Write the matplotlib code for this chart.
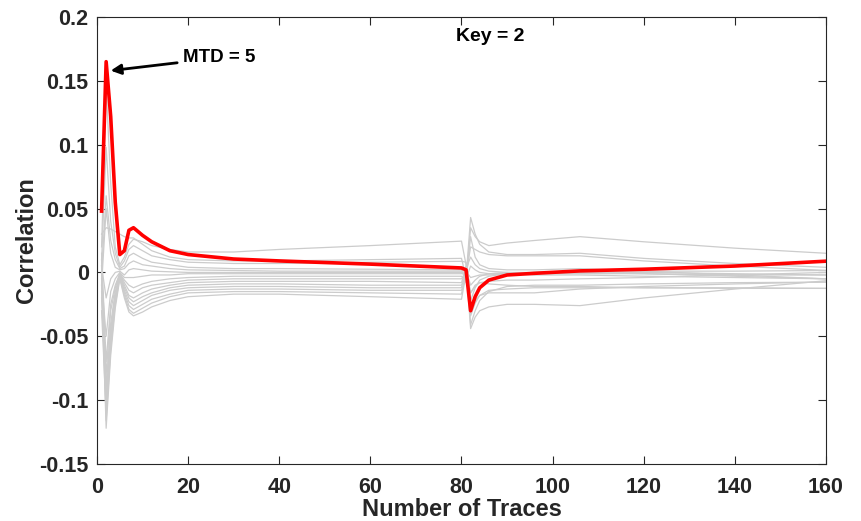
"""
Correlation vs number of traces for all 16 key guesses (key 2 highlighted).
"""
import matplotlib
matplotlib.use('Agg')
import matplotlib.pyplot as plt

plt.rcParams['font.family'] = ['Liberation Sans', 'DejaVu Sans']
plt.rcParams['font.weight'] = 'bold'

n_traces = [1, 2, 3, 4, 5, 6, 7, 8, 10, 12, 16, 20, 30, 40, 60, 80,
            81, 82, 83, 84, 86, 90, 96, 106, 120, 140, 160]

# correct key (key = 2)
key2 = [0.048, 0.165, 0.122, 0.055, 0.014, 0.017, 0.033, 0.035, 0.029, 0.024, 0.017, 0.014, 0.0105, 0.009, 0.0065, 0.0035,
        0.002, -0.030, -0.019, -0.012, -0.006, -0.002, -0.0007, 0.0012, 0.0025, 0.005, 0.0088]

# wrong key guesses
key0 = [0.020, 0.146, 0.070, 0.020, 0.006, 0.012, 0.022, 0.026, 0.024, 0.021, 0.018, 0.016, 0.016, 0.018, 0.021, 0.0245,
        0.006, -0.016, -0.010, -0.008, -0.009, -0.010, -0.011, -0.011, -0.012, -0.0125, -0.0125]
key1 = [0.030, 0.035, 0.034, 0.032, 0.030, 0.028, 0.027, 0.027, 0.022, 0.017, 0.012, 0.010, 0.009, 0.009, 0.010, 0.011,
        -0.004, 0.043, 0.030, 0.022, 0.016, 0.014, 0.014, 0.015, 0.011, 0.007, 0.004]
key3 = [0.010, 0.098, 0.040, 0.015, 0.004, 0.009, 0.018, 0.021, 0.017, 0.013, 0.010, 0.008, 0.007, 0.007, 0.008, 0.0087,
        0.008, -0.041, -0.030, -0.022, -0.015, -0.011, -0.010, -0.010, -0.009, -0.008, -0.0076]
key4 = [0.000, 0.060, 0.025, 0.010, 0.003, 0.005, 0.013, 0.015, 0.011, 0.008, 0.006, 0.004, 0.003, 0.003, 0.0025, 0.002,
        -0.008, 0.035, 0.028, 0.024, 0.021, 0.023, 0.025, 0.028, 0.024, 0.019, 0.015]
key5 = [-0.010, 0.050, 0.015, 0.004, 0.002, 0.003, 0.007, 0.009, 0.006, 0.005, 0.003, 0.002, 0.0015, 0.001, 0.001, 0.001,
        0.004, -0.022, -0.012, -0.006, -0.003, -0.001, 0.000, 0.0003, 0.000, -0.001, -0.002]
key6 = [0.005, -0.020, -0.005, 0.000, 0.001, -0.002, 0.002, 0.003, 0.002, 0.001, 0.0005, 0.000, 0.000, 0.000, 0.000, 0.000,
        -0.002, 0.020, 0.018, 0.016, 0.014, 0.013, 0.013, 0.013, 0.009, 0.005, 0.0016]
key7 = [-0.005, -0.050, -0.015, -0.005, 0.000, -0.004, -0.004, -0.004, -0.003, -0.002, -0.002, -0.001, -0.001, -0.001, -0.001, -0.001,
        0.002, -0.010, -0.006, -0.003, -0.001, 0.000, -0.001, -0.001, -0.001, -0.002, -0.002]
key8 = [0.015, -0.070, -0.025, -0.010, -0.001, -0.006, -0.010, -0.012, -0.009, -0.007, -0.005, -0.004, -0.003, -0.003, -0.003, -0.003,
        -0.006, 0.028, 0.012, 0.006, 0.003, 0.002, 0.002, 0.003, 0.001, -0.002, -0.005]
key9 = [-0.015, -0.080, -0.030, -0.012, -0.001, -0.008, -0.014, -0.016, -0.012, -0.010, -0.008, -0.006, -0.005, -0.005, -0.005, -0.005,
        0.000, -0.034, -0.024, -0.018, -0.014, -0.013, -0.012, -0.012, -0.012, -0.012, -0.0125]
key10 = [0.000, -0.090, -0.040, -0.015, -0.002, -0.010, -0.018, -0.020, -0.016, -0.013, -0.010, -0.008, -0.007, -0.007, -0.007, -0.008,
         0.003, 0.012, 0.006, 0.003, 0.001, 0.000, 0.000, 0.000, -0.001, -0.003, -0.005]
key11 = [-0.020, -0.100, -0.045, -0.018, -0.002, -0.012, -0.020, -0.023, -0.019, -0.016, -0.012, -0.010, -0.009, -0.009, -0.010, -0.010,
         -0.003, -0.028, -0.022, -0.018, -0.016, -0.016, -0.016, -0.013, -0.011, -0.009, -0.0075]
key12 = [0.010, -0.105, -0.050, -0.020, -0.003, -0.014, -0.023, -0.026, -0.022, -0.018, -0.014, -0.012, -0.011, -0.011, -0.012, -0.012,
         0.005, -0.044, -0.035, -0.030, -0.027, -0.025, -0.025, -0.026, -0.020, -0.013, -0.0065]
key13 = [-0.030, -0.110, -0.055, -0.022, -0.003, -0.016, -0.026, -0.029, -0.025, -0.021, -0.017, -0.014, -0.013, -0.013, -0.014, -0.014,
         -0.005, 0.005, 0.002, 0.000, -0.001, -0.001, -0.002, -0.002, -0.003, -0.004, -0.005]
key14 = [0.005, -0.116, -0.060, -0.025, -0.004, -0.018, -0.029, -0.032, -0.028, -0.024, -0.019, -0.016, -0.015, -0.015, -0.016, -0.017,
         0.001, -0.004, -0.003, -0.002, -0.002, -0.001, 0.000, 0.001, 0.001, 0.001, 0.0015]
key15 = [-0.010, -0.122, -0.065, -0.028, -0.005, -0.020, -0.031, -0.034, -0.031, -0.027, -0.022, -0.019, -0.017, -0.017, -0.019, -0.021,
         -0.001, -0.016, -0.011, -0.008, -0.007, -0.006, -0.006, -0.005, -0.004, -0.002, 0.000]

wrong_keys = [key0, key1, key3, key4, key5, key6, key7, key8, key9,
              key10, key11, key12, key13, key14, key15]

axis_col = '#262626'

fig = plt.figure(figsize=(8.61, 5.21), dpi=100)
ax = fig.add_axes([0.1127, 0.1094, 0.8466, 0.858])

for k in wrong_keys:
    ax.plot(n_traces, k, color='#cccccc', linewidth=0.9)
ax.plot(n_traces, key2, color='red', linewidth=2.6)

ax.set_xlim(0, 160)
ax.set_ylim(-0.15, 0.2)
ax.set_xticks(range(0, 161, 20))
ax.set_yticks([-0.15, -0.1, -0.05, 0, 0.05, 0.1, 0.15, 0.2])
ax.set_yticklabels(['-0.15', '-0.1', '-0.05', '0', '0.05', '0.1', '0.15', '0.2'])

ax.tick_params(direction='in', top=True, right=True, length=6, width=0.8,
               colors=axis_col, labelsize=15.5)
ax.tick_params(axis='x', pad=9)
ax.tick_params(axis='y', pad=6)
for s in ax.spines.values():
    s.set_color(axis_col)
    s.set_linewidth(0.8)

ax.set_xlabel('Number of Traces', fontsize=17, fontweight='bold', color=axis_col, labelpad=0)
ax.set_ylabel('Correlation', fontsize=17, fontweight='bold', color=axis_col, labelpad=1)

ax.text(86.4, 0.185, 'Key = 2', ha='center', va='center', fontsize=14, fontweight='bold')
ax.annotate('MTD = 5', xy=(3.0, 0.158), xytext=(18.8, 0.168),
            ha='left', va='center', fontsize=13.5, fontweight='bold',
            arrowprops=dict(arrowstyle='-|>', color='black', lw=2, mutation_scale=15,
                            shrinkA=2, shrinkB=0))

fig.savefig('out.png', dpi=100)
